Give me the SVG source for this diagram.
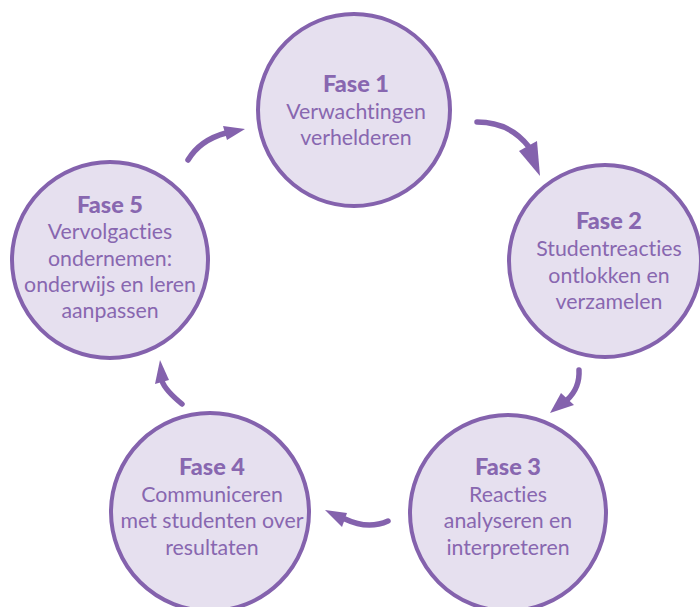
<svg xmlns="http://www.w3.org/2000/svg" width="700" height="607" viewBox="0 0 700 607">
<style>
.node circle{fill:#e6e0ef;stroke:#8462ad;stroke-width:4}
.node text{font-family:Lato,"Open Sans",sans-serif;font-size:21.3px;fill:#8867b0;text-anchor:middle;font-variant-ligatures:none;font-feature-settings:"liga" 0}
.node text.t{font-weight:900;font-size:23.5px}
.conn path{fill:none;stroke:#8462ad;stroke-width:5.5;stroke-linecap:round}
.conn polygon{fill:#8462ad}
</style>
<rect width="700" height="607" fill="#ffffff"/>
<g class="conn" id="connectors">
<path d="M477,122 Q510,122 529,147"/>
<polygon points="519,151 537,141 540,176"/>
<path d="M579,370 Q580,388 567,400"/>
<polygon points="561,393 574,405 550,413"/>
<path d="M388,521 Q368,530 345,519"/>
<polygon points="342,527 347,513 325,510"/>
<path d="M182,404 Q165,390 162,381"/>
<polygon points="155,384 169,380 160,360"/>
<path d="M188,160 Q200,140 226,133"/>
<polygon points="223,126 227,140 245,129"/>
</g>
<g class="node" id="fase1">
<circle cx="354" cy="110" r="96"/>
<text class="t" x="356" y="92">Fase 1</text>
<text x="356" y="118.5">Verwachtingen</text>
<text x="356" y="145">verhelderen</text>
</g>
<g class="node" id="fase2">
<circle cx="605" cy="261" r="96"/>
<text class="t" x="609" y="229">Fase 2</text>
<text x="609" y="256">Studentreacties</text>
<text x="609" y="283">ontlokken en</text>
<text x="609" y="309">verzamelen</text>
</g>
<g class="node" id="fase3">
<circle cx="508" cy="513" r="98"/>
<text class="t" x="508" y="475">Fase 3</text>
<text x="508" y="502">Reacties</text>
<text x="508" y="528">analyseren en</text>
<text x="508" y="555">interpreteren</text>
</g>
<g class="node" id="fase4">
<circle cx="210" cy="512" r="99"/>
<text class="t" x="212" y="475">Fase 4</text>
<text x="212" y="502">Communiceren</text>
<text x="212" y="528">met studenten over</text>
<text x="212" y="555">resultaten</text>
</g>
<g class="node" id="fase5">
<circle cx="110" cy="260" r="98"/>
<text class="t" x="110" y="213">Fase 5</text>
<text x="110" y="239">Vervolgacties</text>
<text x="110" y="266">ondernemen:</text>
<text x="110" y="292">onderwijs en leren</text>
<text x="110" y="318">aanpassen</text>
</g>
</svg>
